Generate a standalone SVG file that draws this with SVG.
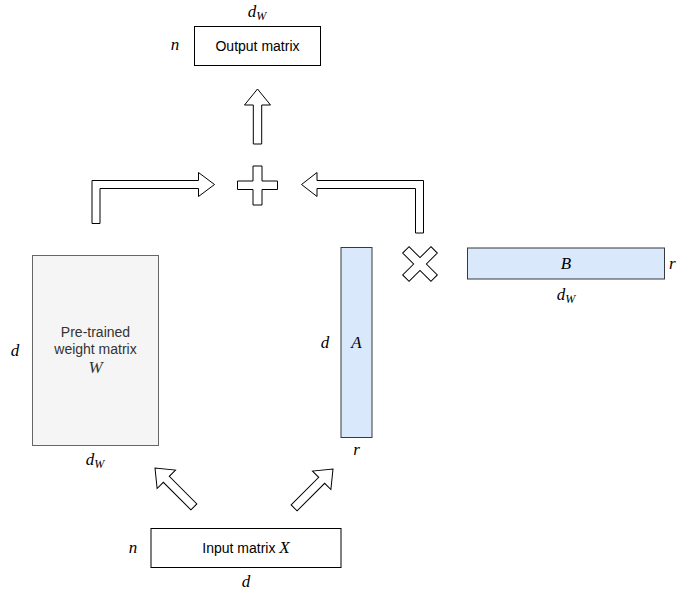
<svg xmlns="http://www.w3.org/2000/svg" width="678" height="596" viewBox="0 0 678 596">
<style>
.box{fill:#ffffff;stroke:#000000;stroke-width:1}
.gray{fill:#f5f5f5;stroke:#666666;stroke-width:1}
.blue{fill:#dae8fc;stroke:#36393d;stroke-width:1}
.shape{fill:#ffffff;stroke:#000000;stroke-width:1;stroke-linejoin:miter}
.lbl{font-family:"Liberation Sans",Arial,sans-serif;font-size:14px;fill:#000000;text-anchor:middle}
.lblg{font-family:"Liberation Sans",Arial,sans-serif;font-size:14px;fill:#333333;text-anchor:middle}
.m{font-family:"Liberation Serif","Times New Roman",serif;font-style:italic;font-size:17px;fill:#000000;text-anchor:middle}
.sub{font-size:12px}
</style>
<defs>
<path id="blk" d="M -4.2,55 L -4.2,16 L -13,16 L 0,0 L 13,16 L 4.2,16 L 4.2,55 Z"/>
</defs>

<g id="output">
<rect class="box" x="194.5" y="26.5" width="126" height="39"/>
<text class="lbl" x="257.5" y="51">Output matrix</text>
<text class="m" x="257" y="17">d<tspan class="sub" dy="3">W</tspan></text>
<text class="m" x="175" y="50">n</text>
</g>

<g id="weight">
<rect class="gray" x="32.5" y="255.5" width="126" height="190"/>
<text class="lblg" x="95.5" y="337">Pre-trained</text>
<text class="lblg" x="95.5" y="354">weight matrix</text>
<text class="m" x="95.5" y="373" style="fill:#333333">W</text>
<text class="m" x="15" y="356">d</text>
<text class="m" x="95" y="465">d<tspan class="sub" dy="3">W</tspan></text>
</g>

<g id="matA">
<rect class="blue" x="341" y="247.5" width="31" height="190"/>
<text class="m" x="356.5" y="348">A</text>
<text class="m" x="325" y="348">d</text>
<text class="m" x="356.5" y="455">r</text>
</g>

<g id="matB">
<rect class="blue" x="467.5" y="248" width="197" height="31"/>
<text class="m" x="566" y="269">B</text>
<text class="m" x="566" y="300">d<tspan class="sub" dy="3">W</tspan></text>
<text class="m" x="669" y="269" style="text-anchor:start">r</text>
</g>

<g id="input">
<rect class="box" x="151" y="528.5" width="190" height="39"/>
<text class="lbl" x="246" y="553">Input matrix <tspan style="font-family:'Liberation Serif','Times New Roman',serif;font-style:italic;font-size:17px">X</tspan></text>
<text class="m" x="133" y="553">n</text>
<text class="m" x="246" y="587">d</text>
</g>

<g id="plus">
<path class="shape" d="M 253,166 L 262,166 L 262,181 L 277.5,181 L 277.5,189.5 L 262,189.5 L 262,205 L 253,205 L 253,189.5 L 237.5,189.5 L 237.5,181 L 253,181 Z"/>
</g>

<g id="times">
<path class="shape" transform="translate(420,264) rotate(45)" d="M -4.5,-20 L 4.5,-20 L 4.5,-4.5 L 20,-4.5 L 20,4.5 L 4.5,4.5 L 4.5,20 L -4.5,20 L -4.5,4.5 L -20,4.5 L -20,-4.5 L -4.5,-4.5 Z"/>
</g>

<g id="connectors">
<path class="shape" d="M 253.3,144 L 253.3,105 L 244.5,105 L 257.5,89 L 270.5,105 L 261.7,105 L 261.7,144 Z"/>
<path class="shape" d="M 92,223.5 L 92,180.5 L 198.5,180.5 L 198.5,172.5 L 214.5,184.5 L 198.5,196.5 L 198.5,188.5 L 100,188.5 L 100,223.5 Z"/>
<path class="shape" d="M 415.5,233 L 415.5,188.5 L 317,188.5 L 317,196.5 L 301.5,184.5 L 317,172.5 L 317,180.5 L 423.5,180.5 L 423.5,233 Z"/>
<use href="#blk" class="shape" transform="translate(155,468) rotate(-45)"/>
<use href="#blk" class="shape" transform="translate(333,469) rotate(45)"/>
</g>
</svg>
